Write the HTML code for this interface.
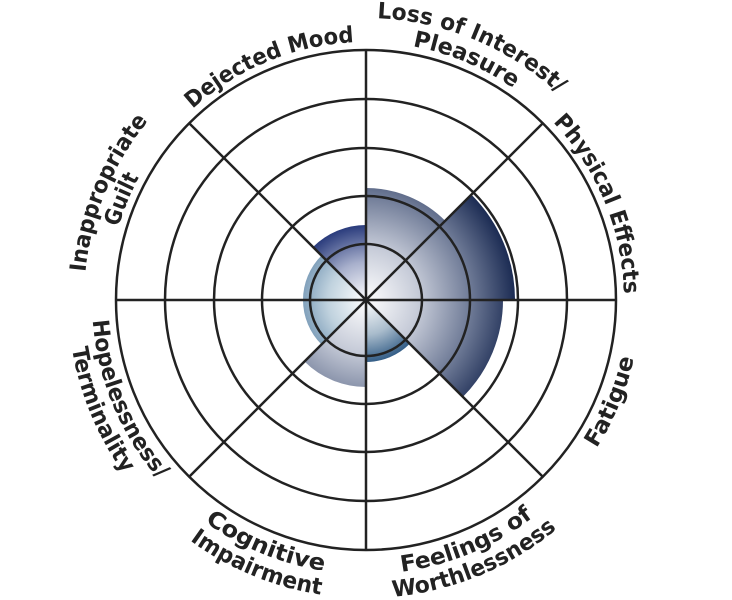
<!DOCTYPE html>
<html><head><meta charset="utf-8"><style>html,body{margin:0;padding:0;background:#fff}svg{display:block}</style></head>
<body>
<svg width="732" height="600" viewBox="0 0 732 600" xmlns="http://www.w3.org/2000/svg">
<defs>
<radialGradient id="gBig" gradientUnits="userSpaceOnUse" cx="366" cy="300" r="150">
<stop offset="0" stop-color="#ffffff"/><stop offset="0.35" stop-color="#c6cbd8"/><stop offset="0.7" stop-color="#6e7a96"/><stop offset="1" stop-color="#1a2a52"/></radialGradient>
<radialGradient id="gLight" gradientUnits="userSpaceOnUse" cx="366" cy="300" r="64">
<stop offset="0" stop-color="#ffffff"/><stop offset="0.6" stop-color="#c0d2de"/><stop offset="1" stop-color="#7f9fba"/></radialGradient>
<radialGradient id="gW" gradientUnits="userSpaceOnUse" cx="366" cy="300" r="63">
<stop offset="0" stop-color="#ffffff"/><stop offset="0.55" stop-color="#a9bccc"/><stop offset="1" stop-color="#2f5a84"/></radialGradient>
<radialGradient id="gD" gradientUnits="userSpaceOnUse" cx="366" cy="300" r="76">
<stop offset="0" stop-color="#ffffff"/><stop offset="0.5" stop-color="#a8b0cc"/><stop offset="1" stop-color="#26387a"/></radialGradient>
<path id="cw258" d="M108,300 A258,258 0 1 1 624,300 A258,258 0 1 1 108,300"/>
<path id="cw282" d="M84,300 A282,282 0 1 1 648,300 A282,282 0 1 1 84,300"/>
<path id="ccw274" d="M92,300 A274,274 0 1 0 640,300 A274,274 0 1 0 92,300"/>
<path id="ccw298" d="M68,300 A298,298 0 1 0 664,300 A298,298 0 1 0 68,300"/>
</defs>

<path d="M366,300 L366,188 A112,112 0 0 1 445.2,220.8 Z" fill="url(#gBig)"/>
<path d="M366,300 L471.4,194.6 A149,149 0 0 1 515,300 Z" fill="url(#gBig)"/>
<path d="M366,300 L503,300 A137,137 0 0 1 462.9,396.9 Z" fill="url(#gBig)"/>
<path d="M366,300 L409.8,343.8 A62,62 0 0 1 366,362 Z" fill="url(#gW)"/>
<path d="M366,300 L366,387 A87,87 0 0 1 304.5,361.5 Z" fill="url(#gBig)"/>
<path d="M366,300 L321.5,344.5 A63,63 0 0 1 303,300 Z" fill="url(#gLight)"/>
<path d="M366,300 L303,300 A63,63 0 0 1 321.5,255.5 Z" fill="url(#gLight)"/>
<path d="M366,300 L313,247 A75,75 0 0 1 366,225 Z" fill="url(#gD)"/>

<g fill="none" stroke="#222" stroke-width="2.5">
<circle cx="366" cy="300" r="56"/>
<circle cx="366" cy="300" r="104"/>
<circle cx="366" cy="300" r="152"/>
<circle cx="366" cy="300" r="201"/>
<circle cx="366" cy="300" r="250"/>
<line x1="116" y1="300" x2="616" y2="300"/>
<line x1="366" y1="50" x2="366" y2="550"/>
<line x1="189.2" y1="123.2" x2="542.8" y2="476.8"/>
<line x1="189.2" y1="476.8" x2="542.8" y2="123.2"/>
</g>

<g font-family="'DejaVu Sans', 'Liberation Sans', sans-serif" font-weight="bold" font-size="22.5" fill="#222" text-anchor="middle">
<text><textPath href="#cw258" startOffset="304" textLength="178" lengthAdjust="spacingAndGlyphs">Dejected Mood</textPath></text>
<text><textPath href="#cw282" startOffset="554" textLength="200" lengthAdjust="spacingAndGlyphs">Loss of Interest/</textPath></text>
<text><textPath href="#cw258" startOffset="507" textLength="110" lengthAdjust="spacingAndGlyphs">Pleasure</textPath></text>
<text><textPath href="#cw258" startOffset="709" textLength="190" lengthAdjust="spacingAndGlyphs">Physical Effects</textPath></text>
<text><textPath href="#cw282" startOffset="111" textLength="166" lengthAdjust="spacingAndGlyphs">Inappropriate</textPath></text>
<text><textPath href="#cw258" startOffset="101" textLength="54" lengthAdjust="spacingAndGlyphs">Guilt</textPath></text>
<text><textPath href="#ccw274" startOffset="753" textLength="98" lengthAdjust="spacingAndGlyphs">Fatigue</textPath></text>
<text><textPath href="#ccw274" startOffset="538" textLength="144" lengthAdjust="spacingAndGlyphs">Feelings of</textPath></text>
<text><textPath href="#ccw298" startOffset="585" textLength="180" lengthAdjust="spacingAndGlyphs">Worthlessness</textPath></text>
<text><textPath href="#ccw274" startOffset="323" textLength="130" lengthAdjust="spacingAndGlyphs">Cognitive</textPath></text>
<text><textPath href="#ccw298" startOffset="351" textLength="143" lengthAdjust="spacingAndGlyphs">Impairment</textPath></text>
<text><textPath href="#ccw274" startOffset="108" textLength="175" lengthAdjust="spacingAndGlyphs">Hopelessness/</textPath></text>
<text><textPath href="#ccw298" startOffset="117" textLength="137" lengthAdjust="spacingAndGlyphs">Terminality</textPath></text>
</g>
</svg>
</body></html>
